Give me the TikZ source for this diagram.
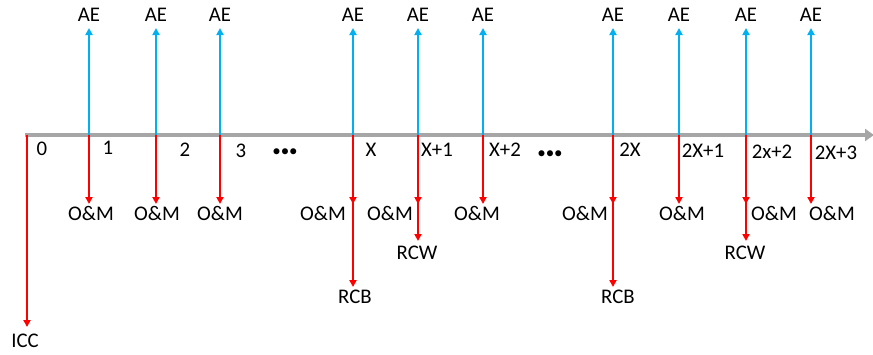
\documentclass[tikz,border=0pt]{standalone}
\usepackage{fontspec}
\setmainfont{Carlito}
\usetikzlibrary{arrows.meta}
\definecolor{aeblue}{RGB}{0,176,240}
\definecolor{axgray}{RGB}{166,166,166}
\begin{document}
\begin{tikzpicture}[x=1pt,y=-1pt,
  lbl/.style={inner sep=0pt, anchor=center, text height=13pt, text depth=0pt, font=\fontsize{20.8}{24}\selectfont},
  upar/.style={aeblue, line width=2.3pt, -{Triangle[length=7pt,width=7pt]}},
  dnar/.style={red, line width=2.3pt, -{Triangle[length=7pt,width=7pt]}},
  axis/.style={axgray, line width=4.8pt, -{Triangle[length=9pt,width=12pt]}}]
\useasboundingbox (0,0) rectangle (873,354);
% axis
\coordinate (a0) at (25,135);
\coordinate (aend) at (874,135);
\draw[axis] (a0) -- (aend);
% tick points
\foreach \n/\x in {0/27,1/89,2/156,3/220,4/353,5/418,6/483,7/613,8/679,9/746,10/811}
  \coordinate (t\n) at (\x,135);
% AE labels and up arrows
\foreach \n/\x in {1/89,2/156,3/220,4/353,5/418,6/483,7/613,8/679,9/746,10/811}{
  \coordinate (u\n) at (\x,28);
  \node[lbl] (ae\n) at (\x,15) {AE};
  \draw[upar] (t\n) -- (u\n);
}
% O&M down arrows
\foreach \n/\x in {1/89,2/156,3/220,4/353,5/418,6/483,7/613,8/679,9/746,10/811}{
  \coordinate (d\n) at (\x,204);
  \draw[dnar] (t\n) -- (d\n);
}
% O&M labels
\foreach \n/\x in {1/91,2/157,3/220,4/323,5/390,6/477,7/585,8/682,9/774,10/832}
  \node[lbl] (om\n) at (\x,214) {O\&M};
% RCW arrows
\coordinate (w5) at (418,241);
\coordinate (w9) at (746,241);
\draw[dnar] (t5) -- (w5);
\draw[dnar] (t9) -- (w9);
\node[lbl] (rcw5) at (417,253) {RCW};
\node[lbl] (rcw9) at (745,253) {RCW};
% RCB arrows
\coordinate (b4) at (353,287);
\coordinate (b7) at (613,287);
\draw[dnar] (t4) -- (b4);
\draw[dnar] (t7) -- (b7);
\node[lbl] (rcb4) at (355,297) {RCB};
\node[lbl] (rcb7) at (618,297) {RCB};
% ICC
\coordinate (c0) at (27,327);
\draw[dnar] (t0) -- (c0);
\node[lbl] (icc) at (25,341) {ICC};
% tick labels
\node[lbl] (l0) at (42,149) {0};
\node[lbl] (l1) at (108,148) {1};
\node[lbl] (l2) at (185,150) {2};
\node[lbl] (l3) at (241,151) {3};
\node[lbl, font=\fontsize{17}{20}\selectfont] (dots1) at (285,150) {\textbullet\textbullet\textbullet};
\node[lbl] (l4) at (371,150) {X};
\node[lbl] (l5) at (437,150) {X+1};
\node[lbl] (l6) at (505,150) {X+2};
\node[lbl, font=\fontsize{17}{20}\selectfont] (dots2) at (550,152) {\textbullet\textbullet\textbullet};
\node[lbl] (l7) at (630,150) {2X};
\node[lbl] (l8) at (703,151) {2X+1};
\node[lbl] (l9) at (772,152) {2x+2};
\node[lbl] (l10) at (836,153) {2X+3};
\end{tikzpicture}
\end{document}
